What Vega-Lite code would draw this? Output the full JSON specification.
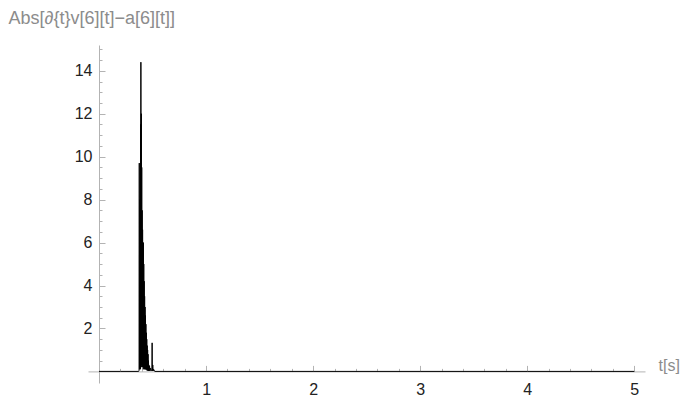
{
  "$schema": "https://vega.github.io/schema/vega-lite/v6.json",
  "width": 557,
  "height": 338,
  "autosize": {"type": "none"},
  "padding": {"left": 88, "top": 45, "right": 38, "bottom": 14},
  "background": "white",
  "config": {"view": {"stroke": null}, "font": "Liberation Sans"},
  "data": {"values": [
    {"t": 0, "v": 0}, {"t": 0.2, "v": 0}, {"t": 0.37, "v": 0}, {"t": 0.374, "v": 0.05},
    {"t": 0.376, "v": 9.7}, {"t": 0.378, "v": 0.1}, {"t": 0.38, "v": 4.0}, {"t": 0.382, "v": 0.2},
    {"t": 0.384, "v": 8.0}, {"t": 0.386, "v": 0.1}, {"t": 0.388, "v": 11.5}, {"t": 0.39, "v": 0.3},
    {"t": 0.391, "v": 14.4}, {"t": 0.393, "v": 0.2}, {"t": 0.395, "v": 12.0}, {"t": 0.397, "v": 0.3},
    {"t": 0.399, "v": 9.5}, {"t": 0.401, "v": 0.2}, {"t": 0.403, "v": 7.5}, {"t": 0.405, "v": 0.3},
    {"t": 0.407, "v": 6.6}, {"t": 0.409, "v": 0.2}, {"t": 0.411, "v": 5.9}, {"t": 0.413, "v": 0.1},
    {"t": 0.414, "v": 6.0}, {"t": 0.416, "v": 0.2}, {"t": 0.418, "v": 5.0}, {"t": 0.42, "v": 0.2},
    {"t": 0.422, "v": 4.2}, {"t": 0.424, "v": 0.1}, {"t": 0.426, "v": 3.5}, {"t": 0.428, "v": 0.2},
    {"t": 0.43, "v": 3.0}, {"t": 0.432, "v": 0.1}, {"t": 0.434, "v": 2.6}, {"t": 0.436, "v": 0.1},
    {"t": 0.438, "v": 2.2}, {"t": 0.44, "v": 0.1}, {"t": 0.442, "v": 1.8}, {"t": 0.444, "v": 0.1},
    {"t": 0.446, "v": 1.5}, {"t": 0.448, "v": 0.05}, {"t": 0.45, "v": 1.2}, {"t": 0.452, "v": 0.05},
    {"t": 0.454, "v": 1.0}, {"t": 0.456, "v": 0.05}, {"t": 0.458, "v": 0.8}, {"t": 0.46, "v": 0.03},
    {"t": 0.462, "v": 0.5}, {"t": 0.464, "v": 0.02}, {"t": 0.466, "v": 0.3}, {"t": 0.468, "v": 0.02},
    {"t": 0.472, "v": 0.25}, {"t": 0.476, "v": 0.02}, {"t": 0.482, "v": 0.15}, {"t": 0.488, "v": 0.02},
    {"t": 0.494, "v": 0.05}, {"t": 0.496, "v": 1.33}, {"t": 0.498, "v": 0.02}, {"t": 0.502, "v": 0.3},
    {"t": 0.506, "v": 0.02}, {"t": 0.51, "v": 0.1}, {"t": 0.52, "v": 0}, {"t": 1, "v": 0},
    {"t": 2, "v": 0}, {"t": 3, "v": 0}, {"t": 4, "v": 0}, {"t": 5, "v": 0}
  ]},
  "mark": {"type": "line", "color": "#000000", "strokeWidth": 1},
  "encoding": {
    "x": {
      "field": "t", "type": "quantitative",
      "scale": {"domain": [-0.103, 5.1], "nice": false, "zero": false},
      "axis": {
        "orient": "bottom", "offset": -11.6, "grid": false,
        "values": [0.2, 0.4, 0.6, 0.8, 1, 1.2, 1.4, 1.6, 1.8, 2, 2.2, 2.4, 2.6, 2.8, 3, 3.2, 3.4, 3.6, 3.8, 4, 4.2, 4.4, 4.6, 4.8, 5],
        "labelExpr": "abs(datum.value - round(datum.value)) < 0.001 ? format(datum.value, 'd') : ''",
        "tickSize": {"condition": {"test": "abs(datum.value - round(datum.value)) < 0.001", "value": -6}, "value": -3},
        "labelPadding": 16, "labelFontSize": 16, "labelColor": "#222222", "labelFont": "Liberation Sans",
        "labelOverlap": false, "labelFlush": false,
        "domainColor": "#b3b3b3", "tickColor": "#b3b3b3", "domainWidth": 1, "tickWidth": 1,
        "title": "t[s]", "titleFont": "Liberation Sans", "titleFontSize": 16, "titleFontWeight": "normal",
        "titleColor": "#8c8c8c", "titleAlign": "left", "titleBaseline": "alphabetic", "titleAngle": 0,
        "titleX": 570, "titleY": -1
      }
    },
    "y": {
      "field": "v", "type": "quantitative",
      "scale": {"domain": [-0.54, 15.2], "nice": false, "zero": false},
      "axis": {
        "orient": "left", "offset": -11, "grid": false,
        "values": [0.5, 1, 1.5, 2, 2.5, 3, 3.5, 4, 4.5, 5, 5.5, 6, 6.5, 7, 7.5, 8, 8.5, 9, 9.5, 10, 10.5, 11, 11.5, 12, 12.5, 13, 13.5, 14, 14.5, 15],
        "labelExpr": "datum.value % 2 === 0 ? format(datum.value, 'd') : ''",
        "tickSize": {"condition": {"test": "datum.value % 2 === 0", "value": -6}, "value": -3},
        "labelPadding": 13, "labelFontSize": 16, "labelColor": "#222222", "labelFont": "Liberation Sans",
        "labelOverlap": false, "labelFlush": false,
        "domainColor": "#b3b3b3", "tickColor": "#b3b3b3", "domainWidth": 1, "tickWidth": 1,
        "title": "Abs[∂{t}v[6][t]−a[6][t]]", "titleFont": "Liberation Sans", "titleFontSize": 18, "titleFontWeight": "normal",
        "titleColor": "#8c8c8c", "titleAlign": "left", "titleBaseline": "alphabetic", "titleAngle": 0,
        "titleX": -91, "titleY": -21.5
      }
    }
  }
}
